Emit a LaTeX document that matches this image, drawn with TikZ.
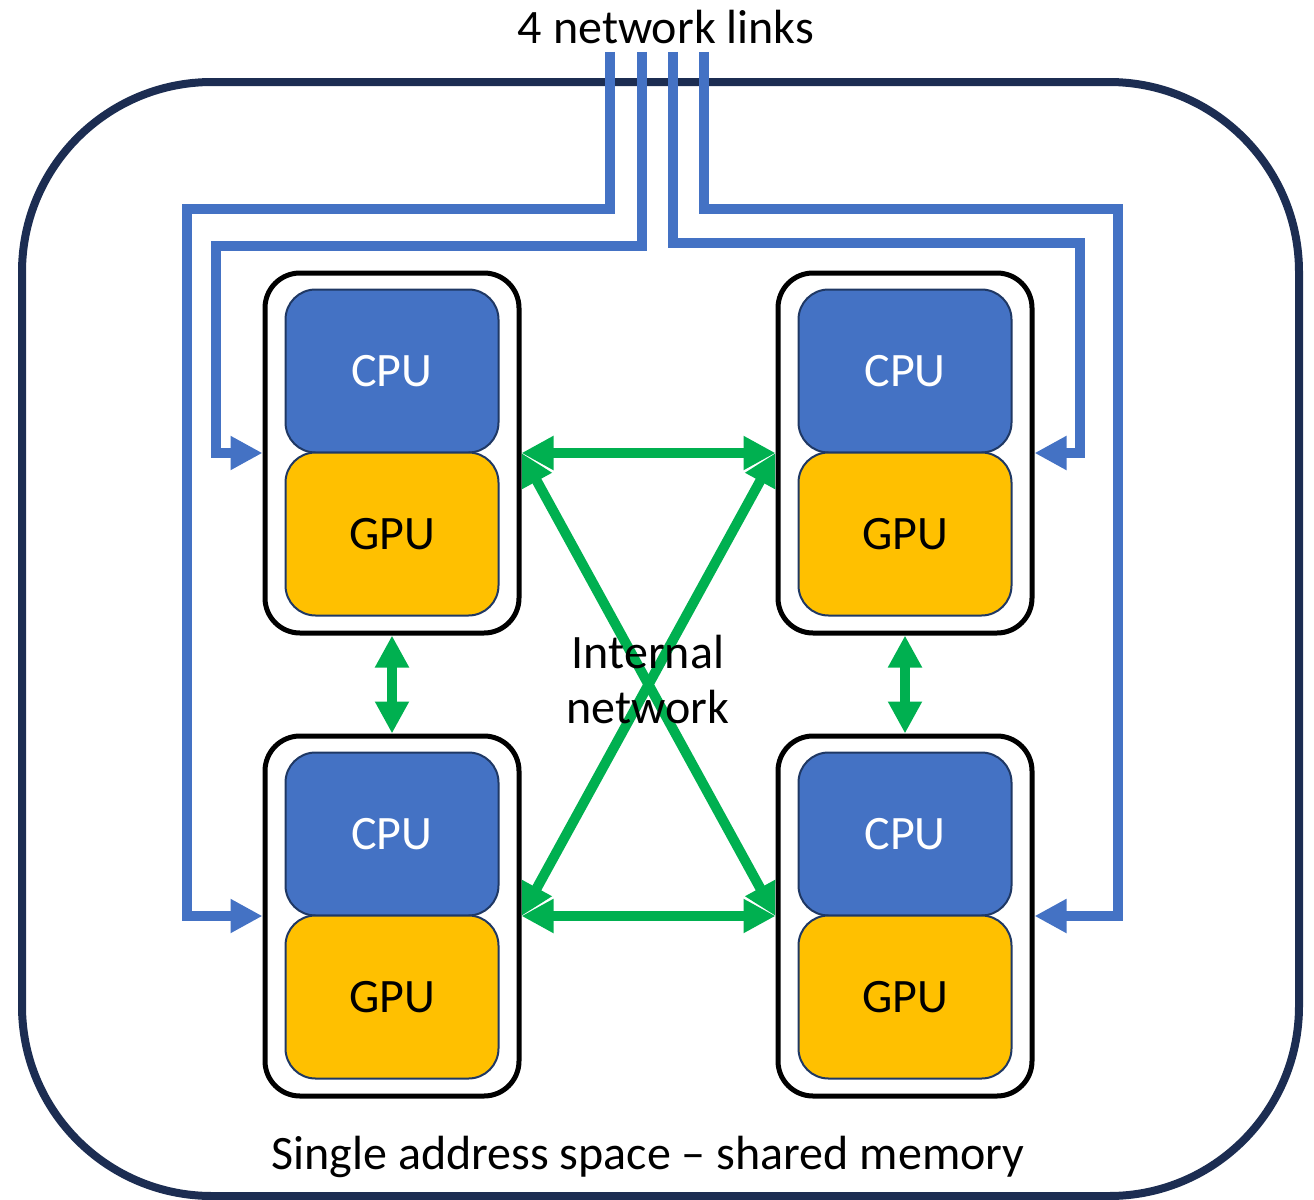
\documentclass[tikz,border=0pt]{standalone}
\usepackage{fontspec}
\setmainfont{Carlito}
\usetikzlibrary{arrows.meta}
\definecolor{navy}{HTML}{1C2D52}
\definecolor{cpublue}{HTML}{4472C4}
\definecolor{gpugold}{HTML}{FFC000}
\definecolor{netgreen}{HTML}{00B050}
\definecolor{edgenavy}{HTML}{1F3864}
\tikzset{
  server/.style={draw=black, line width=5pt, rounded corners=35pt, minimum width=254pt, minimum height=360pt, inner sep=0pt},
  cpubox/.style={draw=edgenavy, line width=2pt, fill=cpublue, rounded corners=30pt, minimum width=213pt, minimum height=163pt, inner sep=0pt, text=white, font=\fontsize{48}{55}\selectfont},
  gpubox/.style={draw=edgenavy, line width=2pt, fill=gpugold, rounded corners=30pt, minimum width=213pt, minimum height=163pt, inner sep=0pt, text=black, font=\fontsize{48}{55}\selectfont},
  link/.style={draw=cpublue, line width=10pt, -{Triangle[length=32pt,width=32pt]}},
  internal/.style={draw=netgreen, line width=10pt, {Triangle[length=32pt,width=32pt]}-{Triangle[length=32pt,width=32pt]}},
  label/.style={font=\fontsize{48}{55}\selectfont, text=black, align=center, inner sep=0pt},
}
\begin{document}
\begin{tikzpicture}[x=1pt,y=-1pt]
\useasboundingbox (0,0) rectangle (1314,1199);
% outer enclosure
\draw[navy, line width=8pt, rounded corners=190pt] (22,82) rectangle (1299,1196);
% servers
\node[server] (tl) at (392,453) {};
\node[server] (tr) at (905,453) {};
\node[server] (bl) at (392,916) {};
\node[server] (br) at (905,916) {};
\node[cpubox] (tlc) at (392,371) {CPU};
\node[gpubox] (tlg) at (392,534) {GPU};
\node[cpubox] (trc) at (905,371) {CPU};
\node[gpubox] (trg) at (905,534) {GPU};
\node[cpubox] (blc) at (392,834) {CPU};
\node[gpubox] (blg) at (392,997) {GPU};
\node[cpubox] (brc) at (905,834) {CPU};
\node[gpubox] (brg) at (905,997) {GPU};
% network links
\coordinate (l1) at (610,52);
\coordinate (l2) at (642,52);
\coordinate (l3) at (673,52);
\coordinate (l4) at (704,52);
\draw[link] (l1) |- (187,209) |- (bl.west);
\draw[link] (l2) |- (216,246) |- (tl.west);
\draw[link] (l3) |- (1080,243) |- (tr.east);
\draw[link] (l4) |- (1118,209) |- (br.east);
% internal network
\draw[internal] (tl.east) -- (tr.west);
\draw[internal] (bl.east) -- (br.west);
\draw[internal] (tl.east) -- (br.west);
\draw[internal] (tr.west) -- (bl.east);
\draw[internal] (tl.south) -- (bl.north);
\draw[internal] (tr.south) -- (br.north);
% labels
\node[label] (title) at (666,27) {4 network links};
\node[label] (inet) at (648,680) {Internal\\network};
\node[label] (mem) at (648,1157) {Single address space – shared memory};
\end{tikzpicture}
\end{document}
